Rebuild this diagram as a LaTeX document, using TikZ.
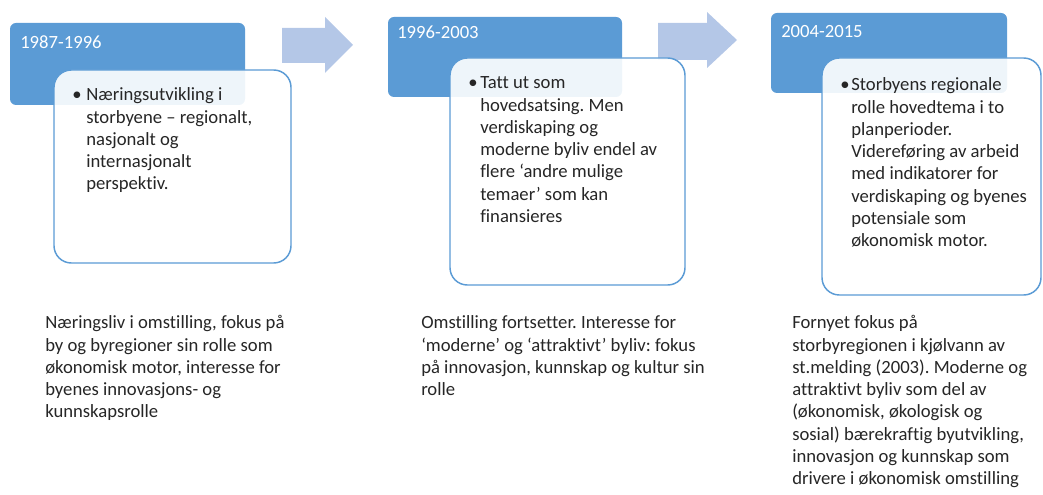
\documentclass[tikz,border=0pt]{standalone}
\usepackage{fontspec}
\setmainfont{Carlito}[Ligatures=NoCommon]
\frenchspacing
\definecolor{hdrblue}{RGB}{91,155,213}
\definecolor{arrowblue}{RGB}{180,199,231}
\definecolor{textgray}{RGB}{38,38,38}
\begin{document}
\begin{tikzpicture}[x=0.75pt,y=-0.75pt,
  body/.style={font=\fontsize{14}{16.7}\selectfont\frenchspacing, text=textgray, align=left, inner sep=0pt, anchor=north west},
  year/.style={font=\fontsize{14}{16.7}\selectfont, text=white, inner sep=0pt, anchor=north west},
  dot/.style={font=\fontsize{14}{16.7}\selectfont, text=textgray, inner sep=0pt, anchor=north west},
  hdr/.style={fill=hdrblue, rounded corners=4.5pt},
  card/.style={draw=hdrblue, line width=1.1pt, fill=white, fill opacity=0.9, rounded corners=13pt},
  bigarrow/.style={fill=arrowblue}]
\useasboundingbox (0,0) rectangle (1043,495);

% period headers
\path[hdr] (10,23) rectangle (245,105);
\path[hdr] (388,17) rectangle (622,97);
\path[hdr] (771,13) rectangle (1007,93);

% block arrows between periods
\path[bigarrow] (282,28) -- (325,28) -- (325,17) -- (353,45) -- (325,73) -- (325,63) -- (282,63) -- cycle;
\path[bigarrow] (658,23) -- (707,23) -- (707,12) -- (737,40) -- (707,68) -- (707,60) -- (658,60) -- cycle;

% detail cards
\path[card] (54,70) rectangle (291,263);
\path[card] (450,58) rectangle (685,285);
\path[card] (822,58) rectangle (1041,295);

% year labels
\node[year] (y1) at (20,35) {1987-1996};
\node[year] (y2) at (397,26) {1996-2003};
\node[year] (y3) at (781,25) {2004-2015};

% card texts
\node[dot] (b1) at (72,85) {\strut•};
\node[body] (c1) at (86,85) {\strut Næringsutvikling i\\storbyene – regionalt,\\nasjonalt og\\internasjonalt\\perspektiv.};
\node[dot] (b2) at (468,73) {\strut•};
\node[body] (c2) at (480,73) {\strut Tatt ut som\\hovedsatsing. Men\\verdiskaping og\\moderne byliv endel av\\flere ‘andre mulige\\temaer’ som kan\\finansieres};
\node[dot] (b3) at (840,75) {\strut•};
\node[body] (c3) at (851,75) {\strut Storbyens regionale\\rolle hovedtema i to\\planperioder.\\Videreføring av arbeid\\med indikatorer for\\verdiskaping og byenes\\potensiale som\\økonomisk motor.};

% context texts below
\node[body] (t1) at (45,313) {\strut Næringsliv i omstilling, fokus på\\by og byregioner sin rolle som\\økonomisk motor, interesse for\\byenes innovasjons- og\\kunnskapsrolle};
\node[body] (t2) at (421,313) {\strut Omstilling fortsetter. Interesse for\\‘moderne’ og ‘attraktivt’ byliv: fokus\\på innovasjon, kunnskap og kultur sin\\rolle};
\node[body] (t3) at (792,313) {\strut Fornyet fokus på\\storbyregionen i kjølvann av\\st.melding (2003). Moderne og\\attraktivt byliv som del av\\(økonomisk, økologisk og\\sosial) bærekraftig byutvikling,\\innovasjon og kunnskap som\\drivere i økonomisk omstilling};
\end{tikzpicture}
\end{document}
